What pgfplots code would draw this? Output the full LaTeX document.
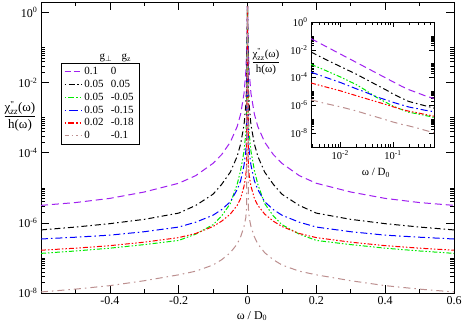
\documentclass[border=0pt]{standalone}
\usepackage{amsmath}
\usepackage{fontspec}
\setmainfont{Liberation Serif}
\usepackage{pgfplots}
\pgfplotsset{compat=1.18}
\usepackage{pgfplotstable}

\definecolor{cpurple}{RGB}{160,32,240}
\definecolor{cgreen}{RGB}{0,235,0}
\definecolor{cbrown}{RGB}{188,143,143}

\pgfplotstableread{
w p k g b r n
-0.6 3.16e-6 6.3e-7 1.35e-7 3.47e-7 1.66e-7 1.07e-8
-0.5 3.8e-6 7.6e-7 1.58e-7 3.9e-7 1.9e-7 1.29e-8
-0.4 5.0e-6 9.5e-7 1.9e-7 4.47e-7 2.24e-7 1.62e-8
-0.3 7.6e-6 1.26e-6 2.4e-7 5.6e-7 2.82e-7 2.24e-8
-0.2 1.35e-5 1.9e-6 3.16e-7 7.6e-7 3.8e-7 3.3e-8
-0.15 2.24e-5 3.16e-6 4.8e-7 1.05e-6 5.0e-7 4.2e-8
-0.1 5.0e-5 6.6e-6 8.9e-7 1.66e-6 7.9e-7 6.3e-8
-0.075 8.9e-5 1.26e-5 1.58e-6 2.4e-6 1.12e-6 8.9e-8
-0.05 2.0e-4 2.8e-5 3.55e-6 4.0e-6 1.78e-6 1.41e-7
-0.03 5.6e-4 7.9e-5 1.26e-5 8.9e-6 3.16e-6 2.5e-7
-0.02 1.26e-3 1.78e-4 3.16e-5 1.58e-5 5.0e-6 4.0e-7
-0.01 5.0e-3 6.3e-4 1.12e-4 4.47e-5 1.12e-5 7.9e-7
-0.005 2.0e-2 2.24e-3 3.55e-4 1.12e-4 2.24e-5 1.41e-6
-0.0028 6.3e-2 6.9e-3 8.9e-4 2.45e-4 4.07e-5 2.5e-6
0 1.5 1.5 1.5 1.5 1.5 1.5
0.0028 6.3e-2 6.9e-3 8.9e-4 2.45e-4 4.07e-5 2.5e-6
0.005 2.0e-2 2.24e-3 3.55e-4 1.12e-4 2.24e-5 1.41e-6
0.01 5.0e-3 6.3e-4 1.12e-4 4.47e-5 1.12e-5 7.9e-7
0.02 1.26e-3 1.78e-4 3.16e-5 1.58e-5 5.0e-6 4.0e-7
0.03 5.6e-4 7.9e-5 1.26e-5 8.9e-6 3.16e-6 2.5e-7
0.05 2.0e-4 2.8e-5 3.55e-6 4.0e-6 1.78e-6 1.41e-7
0.075 8.9e-5 1.26e-5 1.58e-6 2.4e-6 1.12e-6 8.9e-8
0.1 5.0e-5 6.6e-6 8.9e-7 1.66e-6 7.9e-7 6.3e-8
0.15 2.24e-5 3.16e-6 4.8e-7 1.05e-6 5.0e-7 4.2e-8
0.2 1.35e-5 1.9e-6 3.16e-7 7.6e-7 3.8e-7 3.3e-8
0.3 7.6e-6 1.26e-6 2.4e-7 5.6e-7 2.82e-7 2.24e-8
0.4 5.0e-6 9.5e-7 1.9e-7 4.47e-7 2.24e-7 1.62e-8
0.5 3.8e-6 7.6e-7 1.58e-7 3.9e-7 1.9e-7 1.29e-8
0.6 3.16e-6 6.3e-7 1.35e-7 3.47e-7 1.66e-7 1.07e-8
}\data

\pgfplotstableread{
w p k g b r n
0.0028 6.3e-2 6.9e-3 8.9e-4 2.45e-4 4.07e-5 2.5e-6
0.005 2.0e-2 2.24e-3 3.55e-4 1.12e-4 2.24e-5 1.41e-6
0.01 5.0e-3 6.3e-4 1.12e-4 4.47e-5 1.12e-5 7.9e-7
0.02 1.26e-3 1.78e-4 3.16e-5 1.58e-5 5.0e-6 4.0e-7
0.03 5.6e-4 7.9e-5 1.26e-5 8.9e-6 3.16e-6 2.5e-7
0.05 2.0e-4 2.8e-5 3.55e-6 4.0e-6 1.78e-6 1.41e-7
0.075 8.9e-5 1.26e-5 1.58e-6 2.4e-6 1.12e-6 8.9e-8
0.1 5.0e-5 6.6e-6 8.9e-7 1.66e-6 7.9e-7 6.3e-8
0.15 2.24e-5 3.16e-6 4.8e-7 1.05e-6 5.0e-7 4.2e-8
0.2 1.35e-5 1.9e-6 3.16e-7 7.6e-7 3.8e-7 3.3e-8
0.3 7.6e-6 1.26e-6 2.4e-7 5.6e-7 2.82e-7 2.24e-8
0.4 5.0e-6 9.5e-7 1.9e-7 4.47e-7 2.24e-7 1.62e-8
0.5 3.8e-6 7.6e-7 1.58e-7 3.9e-7 1.9e-7 1.29e-8
0.6 3.16e-6 6.3e-7 1.35e-7 3.47e-7 1.66e-7 1.07e-8
}\pos

\pgfplotsset{
 myminor/.style={minor ytick={2e-8,3e-8,4e-8,5e-8,6e-8,7e-8,8e-8,9e-8,1e-7,
   2e-6,3e-6,4e-6,5e-6,6e-6,7e-6,8e-6,9e-6,1e-5,
   2e-4,3e-4,4e-4,5e-4,6e-4,7e-4,8e-4,9e-4,1e-3,
   2e-2,3e-2,4e-2,5e-2,6e-2,7e-2,8e-2,9e-2,1e-1}},
 spurple/.style={color=cpurple, line width=1pt, dash pattern=on 7pt off 4pt},
 sblack/.style={color=black, line width=1pt, dash pattern=on 6pt off 3pt on 1.5pt off 3pt},
 sgreen/.style={color=cgreen, line width=1pt, dash pattern=on 5pt off 2pt on 1.5pt off 2pt on 1.5pt off 2pt},
 sblue/.style={color=blue, line width=1pt, dash pattern=on 7pt off 3pt on 1.5pt off 3pt},
 sred/.style={color=red, line width=1pt, dash pattern=on 5pt off 2pt on 1.5pt off 2pt on 1.5pt off 2pt},
 sbrown/.style={color=cbrown, line width=1pt, dash pattern=on 7pt off 4pt on 1.5pt off 4pt},
}

\begin{document}
\begin{tikzpicture}
\begin{axis}[name=main, at={(0,0)}, anchor=south west,
 scale only axis, width=413pt, height=291pt,
 xmin=-0.6, xmax=0.6, ymode=log, ymin=1e-8, ymax=2,
 xtick={-0.6,-0.4,-0.2,0,0.2,0.4,0.6},
 xticklabels={,-0.4,-0.2,0,0.2,0.4,0.6},
 minor xtick={-0.5,-0.3,-0.1,0.1,0.3,0.5},
 ytick={1e-8,1e-6,1e-4,1e-2,1},
 yticklabels={10\textsuperscript{-8},10\textsuperscript{-6},10\textsuperscript{-4},10\textsuperscript{-2},10\textsuperscript{0}},
 myminor,
 tick align=inside, major tick length=8pt, minor tick length=4pt,
 every tick/.style={black, line width=0.6pt},
 axis line style={line width=0.8pt},
 ticklabel style={font=\fontsize{12}{14}\selectfont},
 legend style={at={(0.048,0.79)}, anchor=north west,
   font=\fontsize{11}{12}\selectfont, row sep=0pt,
   cells={anchor=west}},
]
\addlegendimage{legend image code/.code={\draw[draw=cpurple, line width=1.3pt, dash pattern=on 6pt off 3pt] (0pt,0pt) -- (17pt,0pt);}}
\addlegendentry{\makebox[26.5pt][l]{0.1}0}
\addlegendimage{legend image code/.code={\draw[draw=black, line width=1.3pt, dash pattern=on 1.5pt off 2.5pt on 6pt off 2.5pt] (0pt,0pt) -- (17pt,0pt);}}
\addlegendentry{\makebox[26.5pt][l]{0.05}0.05}
\addlegendimage{legend image code/.code={\draw[draw=cgreen, line width=1.3pt, dash pattern=on 1.5pt off 2pt on 6pt off 2pt on 1.5pt off 2pt] (0pt,0pt) -- (17pt,0pt);}}
\addlegendentry{\makebox[26.5pt][l]{0.05}-0.05}
\addlegendimage{legend image code/.code={\draw[draw=blue, line width=1.3pt, dash pattern=on 1.5pt off 3pt on 9pt off 3pt] (0pt,0pt) -- (17pt,0pt);}}
\addlegendentry{\makebox[26.5pt][l]{0.05}-0.15}
\addlegendimage{legend image code/.code={\draw[draw=red, line width=1.3pt, dash pattern=on 1.5pt off 2pt on 6pt off 2pt on 1.5pt off 2pt] (0pt,0pt) -- (17pt,0pt);}}
\addlegendentry{\makebox[26.5pt][l]{0.02}-0.18}
\addlegendimage{legend image code/.code={\draw[draw=cbrown, line width=1.3pt, dash pattern=on 4pt off 3pt on 1.5pt off 3pt on 1.5pt off 3pt] (0pt,0pt) -- (17pt,0pt);}}
\addlegendentry{\makebox[26.5pt][l]{0}-0.1}
\addplot[spurple, forget plot] table[x=w,y=p]{\data};
\addplot[sblack, forget plot] table[x=w,y=k]{\data};
\addplot[sgreen, forget plot] table[x=w,y=g]{\data};
\addplot[sblue, forget plot] table[x=w,y=b]{\data};
\addplot[sred, forget plot] table[x=w,y=r]{\data};
\addplot[sbrown, forget plot] table[x=w,y=n]{\data};
\end{axis}

\begin{axis}[name=inset, at={(270pt,146pt)}, anchor=south west,
 scale only axis, width=123pt, height=125pt,
 axis background/.style={fill=white},
 xmode=log, ymode=log, xmin=0.0028, xmax=0.6, ymin=1e-9, ymax=1,
 xtick={0.01,0.1},
 xticklabels={10\textsuperscript{-2},10\textsuperscript{-1}},
 minor xtick={0.003,0.004,0.005,0.006,0.007,0.008,0.009,0.02,0.03,0.04,0.05,0.06,0.07,0.08,0.09,0.2,0.3,0.4,0.5,0.6},
 ytick={1e-8,1e-6,1e-4,1e-2,1},
 yticklabels={10\textsuperscript{-8},10\textsuperscript{-6},10\textsuperscript{-4},10\textsuperscript{-2},10\textsuperscript{0}},
 myminor,
 tick align=inside, major tick length=5pt, minor tick length=3pt,
 every tick/.style={black, line width=0.5pt},
 axis line style={line width=0.8pt},
 ticklabel style={font=\fontsize{10.5}{12}\selectfont},
]
\addplot[spurple] table[x=w,y=p]{\pos};
\addplot[sblack] table[x=w,y=k]{\pos};
\addplot[sgreen] table[x=w,y=g]{\pos};
\addplot[sblue] table[x=w,y=b]{\pos};
\addplot[sred] table[x=w,y=r]{\pos};
\addplot[sbrown] table[x=w,y=n]{\pos};
\end{axis}

% labels
\node[font=\fontsize{13}{15}\selectfont] at (-21pt,177pt)
 {\(\dfrac{\text{χ}^{\text{\textquotedbl}}_{\text{\textit{zz}}}\text{(ω)}}{\rule{0pt}{10pt}\text{h(ω)}}\)};
\node[font=\fontsize{12}{14}\selectfont] at (211pt,-23pt) {ω / D\textsubscript{0}};
\node[font=\fontsize{11}{13}\selectfont, anchor=west] at (55pt,235pt) {g\textsubscript{\(\perp\)}};
\node[font=\fontsize{11}{13}\selectfont, anchor=west] at (77pt,235pt) {g\textsubscript{z}};
\node[font=\fontsize{11}{13}\selectfont] at (225pt,231pt)
 {\(\dfrac{\text{χ}^{\text{\textquotedbl}}_{\text{zz}}\text{(ω)}}{\rule{0pt}{9pt}\text{h(ω)}}\)};
\node[font=\fontsize{11}{13}\selectfont] at (335pt,120pt) {ω / D\textsubscript{0}};

\pgfresetboundingbox
\path (-41pt,-31pt) rectangle (422pt,293pt);
\end{tikzpicture}
\end{document}
